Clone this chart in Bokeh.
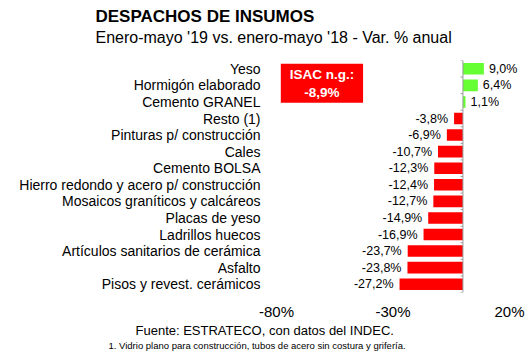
from bokeh.plotting import figure
from bokeh.models import (ColumnDataSource, FactorRange, Range1d, Title, Span,
                          FixedTicker, CustomJSTickFormatter)
from bokeh.core.properties import value
from bokeh.embed import file_html
from bokeh.resources import INLINE

# ---- data ----
categories = ["Yeso", "Hormigón elaborado", "Cemento GRANEL", "Resto (1)",
              "Pinturas p/ construcción", "Cales", "Cemento BOLSA",
              "Hierro redondo y acero p/ construcción",
              "Mosaicos graníticos y calcáreos", "Placas de yeso",
              "Ladrillos huecos", "Artículos sanitarios de cerámica",
              "Asfalto", "Pisos y revest. cerámicos"]
values = [9.0, 6.4, 1.1, -3.8, -6.9, -10.7, -12.3, -12.4, -12.7, -14.9,
          -16.9, -23.7, -23.8, -27.2]
x_ticks = [-80, -30, 20]
isac_value = -8.9

title = "DESPACHOS DE INSUMOS"
subtitle = "Enero-mayo '19 vs. enero-mayo '18 - Var. % anual"
source_text = "Fuente: ESTRATECO, con datos del INDEC."
footnote = "1. Vidrio plano para construcción, tubos de acero sin costura y grifería."

FONT = "Liberation Sans"
W, H = 530, 355
FL, FR = 276, 520  # frame left / right (px)

def fmt(v):
    return ("%.1f%%" % v).replace(".", ",")

pos_idx = [i for i, v in enumerate(values) if v >= 0]
neg_idx = [i for i, v in enumerate(values) if v < 0]
src_pos = ColumnDataSource(dict(cat=[categories[i] for i in pos_idx],
                                val=[values[i] for i in pos_idx],
                                lab=[fmt(values[i]) for i in pos_idx]))
src_neg = ColumnDataSource(dict(cat=[categories[i] for i in neg_idx],
                                val=[values[i] for i in neg_idx],
                                lab=[fmt(values[i]) for i in neg_idx]))

p = figure(width=W, height=H, output_backend="svg", toolbar_location=None,
           y_range=FactorRange(factors=list(reversed(categories)),
                               range_padding=0, factor_padding=0),
           x_range=Range1d(-80, 24.7),
           min_border_left=FL, min_border_right=W - FR,
           min_border_top=60, min_border_bottom=63)
p.outline_line_color = None
p.grid.visible = False
p.background_fill_color = "white"
p.border_fill_color = "white"

p.hbar(y="cat", left=0, right="val", height=0.7, source=src_pos,
       fill_color="#66FF33", line_color=None)
p.hbar(y="cat", left=0, right="val", height=0.7, source=src_neg,
       fill_color="#FF0000", line_color=None)

p.text(x="val", y="cat", text="lab", source=src_pos, x_offset=5,
       text_align="left", text_baseline="middle", text_font=value(FONT),
       text_font_size="12.5px", text_color="black")
p.text(x="val", y="cat", text="lab", source=src_neg, x_offset=-6,
       text_align="right", text_baseline="middle", text_font=value(FONT),
       text_font_size="12.5px", text_color="black")

# vertical category axis at zero
p.add_layout(Span(location=0, dimension="height", line_color="#9a9a9a",
                  line_width=1))
bounds_y = [(c, -0.5) for c in categories] + [(categories[0], 0.5)]
p.segment(x0=[-1.0] * len(bounds_y), x1=[0] * len(bounds_y),
          y0=bounds_y, y1=bounds_y, line_color="#9a9a9a", line_width=1)

# ISAC box
p.rect(x=[-60.5], y=[("Hormigón elaborado", 0.12)], width=35.3, height=39,
       height_units="screen", fill_color="#FF0000", line_color=None)
p.text(x=[-60.5], y=[("Hormigón elaborado", 0.12)], text=["ISAC n.g.:"],
       y_offset=-8.5, text_align="center", text_baseline="middle",
       text_font=value(FONT), text_font_size="13.5px",
       text_font_style="bold", text_color="white")
p.text(x=[-60.5], y=[("Hormigón elaborado", 0.12)], text=[fmt(isac_value)],
       y_offset=9, text_align="center", text_baseline="middle",
       text_font=value(FONT), text_font_size="13.5px",
       text_font_style="bold", text_color="white")

# axes
ya = p.yaxis[0]
ya.axis_line_color = None
ya.major_tick_line_color = None
ya.minor_tick_line_color = None
ya.major_tick_out = 0
ya.major_tick_in = 0
ya.major_label_standoff = 16
ya.major_label_text_font = FONT
ya.major_label_text_font_size = "14px"
ya.major_label_text_color = "black"

xa = p.xaxis[0]
xa.ticker = FixedTicker(ticks=x_ticks)
xa.formatter = CustomJSTickFormatter(code="return tick + '%';")
xa.axis_line_color = None
xa.major_tick_line_color = None
xa.minor_tick_line_color = None
xa.major_tick_out = 0
xa.major_tick_in = 0
xa.major_label_standoff = 10
xa.major_label_text_font = FONT
xa.major_label_text_font_size = "15px"
xa.major_label_text_color = "black"

# titles & footer
def ttl(text, side, px, size, standoff, bold=False, valign="bottom",
        line_height=1.0):
    p.add_layout(Title(text=text, align="left", offset=px - FL,
                       standoff=standoff, vertical_align=valign,
                       text_line_height=line_height,
                       text_font=FONT, text_font_size=size,
                       text_font_style="bold" if bold else "normal",
                       text_color="black"), side)

# trailing blank line lifts the subtitle away from the plot frame
ttl(subtitle + "\n\u00a0", "above", 95, "16px", 2, line_height=0.8)
ttl(title, "above", 95, "17px", 0, bold=True)
ttl(source_text, "below", 135, "13px", 0, valign="top")
ttl(footnote, "below", 108, "9.5px", 0, valign="top")

open("out.html", "w").write(file_html(p, INLINE))
